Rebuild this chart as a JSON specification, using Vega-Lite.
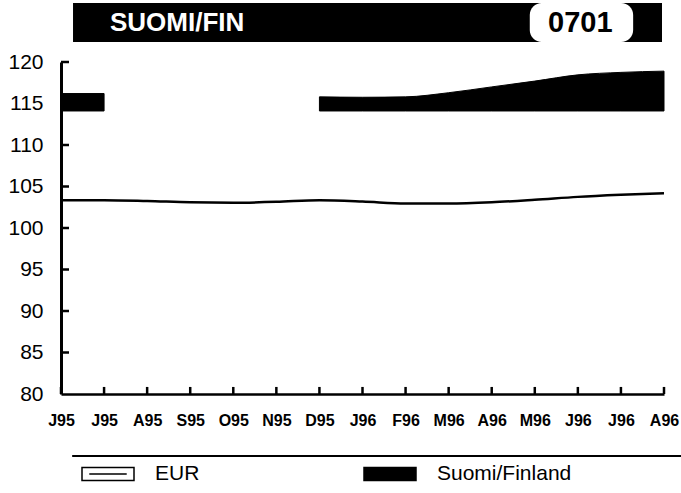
{
  "$schema": "https://vega.github.io/schema/vega-lite/v6.json",
  "padding": {"top": 3, "left": 7, "right": 0, "bottom": 0},
  "background": "white",
  "config": {"view": {"stroke": null}, "font": "Liberation Sans"},
  "spacing": 20,
  "bounds": "flush",
  "resolve": {"scale": {"x": "independent", "y": "independent"}},
  "datasets": {
    "header": [{"title": "SUOMI/FIN", "code": "0701"}],
    "yticks": [{"v": 85}, {"v": 90}, {"v": 95}, {"v": 100}, {"v": 105}, {"v": 110}, {"v": 115}, {"v": 120}],
    "series": [
      {"month": "1995-06", "series": "EUR", "value": 103.35},
      {"month": "1995-07", "series": "EUR", "value": 103.35},
      {"month": "1995-08", "series": "EUR", "value": 103.25},
      {"month": "1995-09", "series": "EUR", "value": 103.1},
      {"month": "1995-10", "series": "EUR", "value": 103.05},
      {"month": "1995-11", "series": "EUR", "value": 103.15},
      {"month": "1995-12", "series": "EUR", "value": 103.35},
      {"month": "1996-01", "series": "EUR", "value": 103.2},
      {"month": "1996-02", "series": "EUR", "value": 102.95},
      {"month": "1996-03", "series": "EUR", "value": 102.95},
      {"month": "1996-04", "series": "EUR", "value": 103.1},
      {"month": "1996-05", "series": "EUR", "value": 103.4},
      {"month": "1996-06", "series": "EUR", "value": 103.75},
      {"month": "1996-07", "series": "EUR", "value": 104.0},
      {"month": "1996-08", "series": "EUR", "value": 104.2},
      {"month": "1995-06", "series": "Suomi/Finland", "value": 116.2},
      {"month": "1995-07", "series": "Suomi/Finland", "value": 116.2},
      {"month": "1995-08", "series": "Suomi/Finland", "value": null},
      {"month": "1995-09", "series": "Suomi/Finland", "value": null},
      {"month": "1995-10", "series": "Suomi/Finland", "value": null},
      {"month": "1995-11", "series": "Suomi/Finland", "value": null},
      {"month": "1995-12", "series": "Suomi/Finland", "value": 115.8},
      {"month": "1996-01", "series": "Suomi/Finland", "value": 115.75},
      {"month": "1996-02", "series": "Suomi/Finland", "value": 115.8},
      {"month": "1996-03", "series": "Suomi/Finland", "value": 116.3},
      {"month": "1996-04", "series": "Suomi/Finland", "value": 117.0},
      {"month": "1996-05", "series": "Suomi/Finland", "value": 117.7},
      {"month": "1996-06", "series": "Suomi/Finland", "value": 118.45},
      {"month": "1996-07", "series": "Suomi/Finland", "value": 118.75},
      {"month": "1996-08", "series": "Suomi/Finland", "value": 118.9}
    ]
  },
  "vconcat": [
    {
      "width": 601,
      "height": 39,
      "data": {"name": "header"},
      "layer": [
        {
          "mark": {"type": "rect", "color": "black"},
          "encoding": {
            "x": {"datum": 2, "type": "quantitative", "scale": {"domain": [0, 100]}, "axis": null},
            "x2": {"datum": 100}
          }
        },
        {
          "mark": {"type": "rect", "color": "white", "cornerRadius": 12},
          "encoding": {
            "x": {"datum": 78, "type": "quantitative"},
            "x2": {"datum": 95.2}
          }
        },
        {
          "mark": {"type": "text", "align": "left", "baseline": "middle", "color": "white", "fontSize": 26, "fontWeight": "bold", "font": "Liberation Sans"},
          "encoding": {
            "x": {"datum": 8.15, "type": "quantitative"},
            "text": {"field": "title"}
          }
        },
        {
          "mark": {"type": "text", "align": "center", "baseline": "middle", "color": "black", "fontSize": 29, "fontWeight": "bold", "font": "Liberation Sans"},
          "encoding": {
            "x": {"datum": 86.4, "type": "quantitative"},
            "text": {"field": "code"}
          }
        }
      ]
    },
    {
      "width": 603,
      "height": 332,
      "data": {"name": "series"},
      "encoding": {
        "x": {
          "field": "month",
          "type": "ordinal",
          "scale": {"type": "point", "padding": 0},
          "axis": {
            "title": null,
            "labelAngle": 0,
            "labelExpr": "['J','F','M','A','M','J','J','A','S','O','N','D'][toNumber(slice(datum.value,5,7))-1] + slice(datum.value,2,4)",
            "labelFont": "Liberation Sans",
            "labelFontSize": 16,
            "labelFontWeight": "bold",
            "labelColor": "black",
            "labelPadding": 18,
            "ticks": false,
            "domainColor": "black",
            "domainWidth": 2.5,
            "grid": false
          }
        }
      },
      "layer": [
        {
          "transform": [{"filter": "datum.series === 'Suomi/Finland'"}],
          "mark": {"type": "area", "interpolate": "monotone", "opacity": 1, "stroke": "black", "strokeWidth": 1, "invalid": "break-paths-show-domains"},
          "encoding": {
            "y": {
              "field": "value",
              "type": "quantitative",
              "scale": {"domain": [80, 120]},
              "axis": {
                "title": null,
                "values": [80, 85, 90, 95, 100, 105, 110, 115, 120],
                "grid": false,
                "labelFont": "Liberation Sans",
                "labelFontSize": 21,
                "labelColor": "black",
                "labelPadding": 18,
                "ticks": false,
                "domainColor": "black",
                "domainWidth": 3
              }
            },
            "y2": {"datum": 114.1},
            "fill": {
              "field": "series",
              "type": "nominal",
              "scale": {"domain": ["EUR", "Suomi/Finland"], "range": ["white", "black"]},
              "legend": {
                "orient": "none",
                "legendX": 20,
                "legendY": 444,
                "direction": "horizontal",
                "title": null,
                "padding": 0,
                "symbolType": "M-1,-0.25H1V0.25H-1Z M-0.72,0H0.72",
                "symbolSize": 2704,
                "symbolStrokeColor": "black",
                "symbolStrokeWidth": 1.5,
                "symbolOpacity": 1,
                "labelFont": "Liberation Sans",
                "labelFontSize": 21,
                "labelColor": "black",
                "labelOffset": 20,
                "labelLimit": 300,
                "columnPadding": 161
              }
            }
          }
        },
        {
          "transform": [{"filter": "datum.series === 'EUR'"}],
          "mark": {"type": "line", "interpolate": "monotone", "color": "black", "strokeWidth": 2.5},
          "encoding": {
            "y": {"field": "value", "type": "quantitative"}
          }
        },
        {
          "transform": [{"filter": "datum.series === 'EUR'"}],
          "mark": {"type": "rule", "color": "black", "strokeWidth": 2.5},
          "encoding": {
            "y": {"datum": 80, "type": "quantitative"},
            "y2": {"datum": 80.85}
          }
        },
        {
          "data": {"name": "yticks"},
          "mark": {"type": "tick", "orient": "horizontal", "size": 8, "thickness": 2.5, "color": "black", "xOffset": 4, "opacity": 1},
          "encoding": {
            "x": {"datum": "1995-06", "type": "ordinal"},
            "y": {"field": "v", "type": "quantitative"}
          }
        }
      ]
    },
    {
      "width": 620,
      "height": 42,
      "data": {"name": "header"},
      "mark": {"type": "rule", "color": "black", "strokeWidth": 2},
      "encoding": {
        "x": {"datum": 1.8, "type": "quantitative", "scale": {"domain": [0, 100]}, "axis": null},
        "x2": {"datum": 100},
        "y": {"datum": 0, "type": "quantitative", "scale": {"domain": [0, 1]}, "axis": null}
      }
    }
  ]
}
